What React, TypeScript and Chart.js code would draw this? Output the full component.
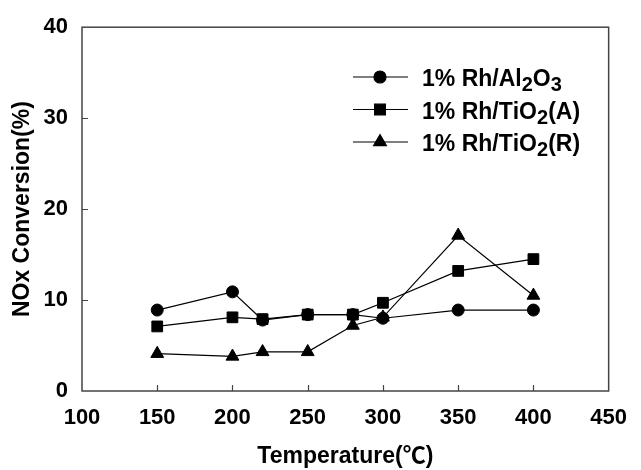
import React, { useEffect, useRef } from 'react';
import { Chart, registerables } from 'chart.js';
import { drawPoint } from 'chart.js/helpers';

Chart.register(...registerables);

const temperatures = [150, 200, 220, 250, 280, 300, 350, 400];
const rhAl2O3 = [8.9, 10.9, 7.8, 8.4, 8.4, 8.0, 8.9, 8.9];
const rhTiO2A = [7.1, 8.1, 7.9, 8.4, 8.4, 9.7, 13.2, 14.5];
const rhTiO2R = [4.1, 3.8, 4.3, 4.3, 7.2, 8.1, 17.1, 10.5];
const seriesLabels = ['1% Rh/Al2O3', '1% Rh/TiO2(A)', '1% Rh/TiO2(R)'];
const seriesValues = [rhAl2O3, rhTiO2A, rhTiO2R];
const pointStyles = ['circle', 'rect', 'triangle'];
const pointRadii = [6, 7.6, 7.4];
const xTitle = 'Temperature(℃)';
const yTitle = 'NOx Conversion(%)';

const FONT = "'Liberation Sans', Arial, sans-serif";
const TITLE_FONT = "'Liberation Sans', Arial, 'Noto Sans CJK KR', sans-serif";

const framePlugin = {
  id: 'frame',
  beforeDatasetsDraw(chart: any) {
    const { ctx, chartArea: a, scales } = chart;
    ctx.save();
    ctx.strokeStyle = '#444';
    ctx.lineWidth = 1.5;
    ctx.strokeRect(a.left, a.top, a.right - a.left, a.bottom - a.top);
    ctx.lineWidth = 1.2;
    ctx.beginPath();
    scales.x.ticks.forEach((t: any) => {
      const px = Math.round(scales.x.getPixelForValue(t.value)) + 0.5;
      if (px > a.left + 2 && px < a.right - 2) {
        ctx.moveTo(px, a.bottom);
        ctx.lineTo(px, a.bottom - 6);
      }
    });
    scales.y.ticks.forEach((t: any) => {
      const py = Math.round(scales.y.getPixelForValue(t.value)) + 0.5;
      if (py > a.top + 2 && py < a.bottom - 2) {
        ctx.moveTo(a.left, py);
        ctx.lineTo(a.left + 6, py);
      }
    });
    ctx.stroke();
    ctx.restore();
  },
};

function drawLabel(ctx: CanvasRenderingContext2D, text: string, x: number, y: number) {
  let cx = x;
  let prev = '';
  let sub = false;
  for (const ch of text) {
    const isDigit = /\d/.test(ch);
    sub = isDigit && (/[A-Za-z]/.test(prev) || (sub && /\d/.test(prev)));
    ctx.font = sub ? `bold 20px ${FONT}` : `bold 23px ${FONT}`;
    ctx.fillText(ch, cx, sub ? y + 5 : y);
    cx += ctx.measureText(ch).width;
    prev = ch;
  }
}

const legendPlugin = {
  id: 'innerLegend',
  afterDraw(chart: any) {
    const { ctx } = chart;
    ctx.save();
    chart.data.datasets.forEach((ds: any, i: number) => {
      const y = 77 + i * 32.5;
      ctx.strokeStyle = '#000';
      ctx.fillStyle = '#000';
      ctx.lineWidth = 1.2;
      ctx.beginPath();
      ctx.moveTo(353, y);
      ctx.lineTo(408, y);
      ctx.stroke();
      drawPoint(ctx, { pointStyle: ds.pointStyle, radius: ds.pointRadius, rotation: 0, borderWidth: 1 }, 380, y);
      ctx.textAlign = 'left';
      ctx.textBaseline = 'alphabetic';
      drawLabel(ctx, ds.label, 422, y + 9);
    });
    ctx.restore();
  },
};

export default function App() {
  const canvasRef = useRef<HTMLCanvasElement>(null);

  useEffect(() => {
    if (!canvasRef.current) return;
    const chart = new Chart(canvasRef.current, {
      type: 'line',
      data: {
        datasets: seriesLabels.map((label, i) => ({
          label,
          data: temperatures.map((t, j) => ({ x: t, y: seriesValues[i][j] })),
          borderColor: '#000',
          backgroundColor: '#000',
          borderWidth: 1.2,
          pointStyle: pointStyles[i],
          pointRadius: pointRadii[i],
          pointBackgroundColor: '#000',
          pointBorderColor: '#000',
          pointBorderWidth: 1,
          tension: 0,
          fill: false,
        })),
      },
      options: {
        responsive: false,
        animation: false,
        layout: { padding: { top: 19, right: 20, left: 0, bottom: 0 } },
        plugins: {
          legend: { display: false },
          tooltip: { enabled: false },
        },
        scales: {
          x: {
            type: 'linear',
            min: 100,
            max: 450,
            ticks: {
              stepSize: 50,
              color: '#000',
              padding: 14,
              font: { family: FONT, size: 22, weight: 'bold' },
            },
            grid: { display: false, drawTicks: false },
            border: { display: false },
            title: {
              display: true,
              text: xTitle,
              color: '#000',
              padding: { top: 0, bottom: 0 },
              font: { family: TITLE_FONT, size: 23, weight: 'bold' },
            },
            afterFit: (s: any) => {
              s.height = 79;
            },
          },
          y: {
            type: 'linear',
            min: 0,
            max: 40,
            ticks: {
              stepSize: 10,
              color: '#000',
              padding: 14,
              font: { family: FONT, size: 22, weight: 'bold' },
            },
            grid: { display: false, drawTicks: false },
            border: { display: false },
            title: {
              display: true,
              text: yTitle,
              color: '#000',
              padding: { top: 9, bottom: 0 },
              font: { family: TITLE_FONT, size: 23, weight: 'bold' },
            },
            afterFit: (s: any) => {
              s.width = 82;
            },
          },
        },
      },
      plugins: [framePlugin, legendPlugin],
    });
    return () => chart.destroy();
  }, []);

  return (
    <div style={{ position: 'absolute', left: 0, top: 0, width: 641, height: 470, background: '#fff' }}>
      <canvas ref={canvasRef} width={641} height={470} />
    </div>
  );
}
